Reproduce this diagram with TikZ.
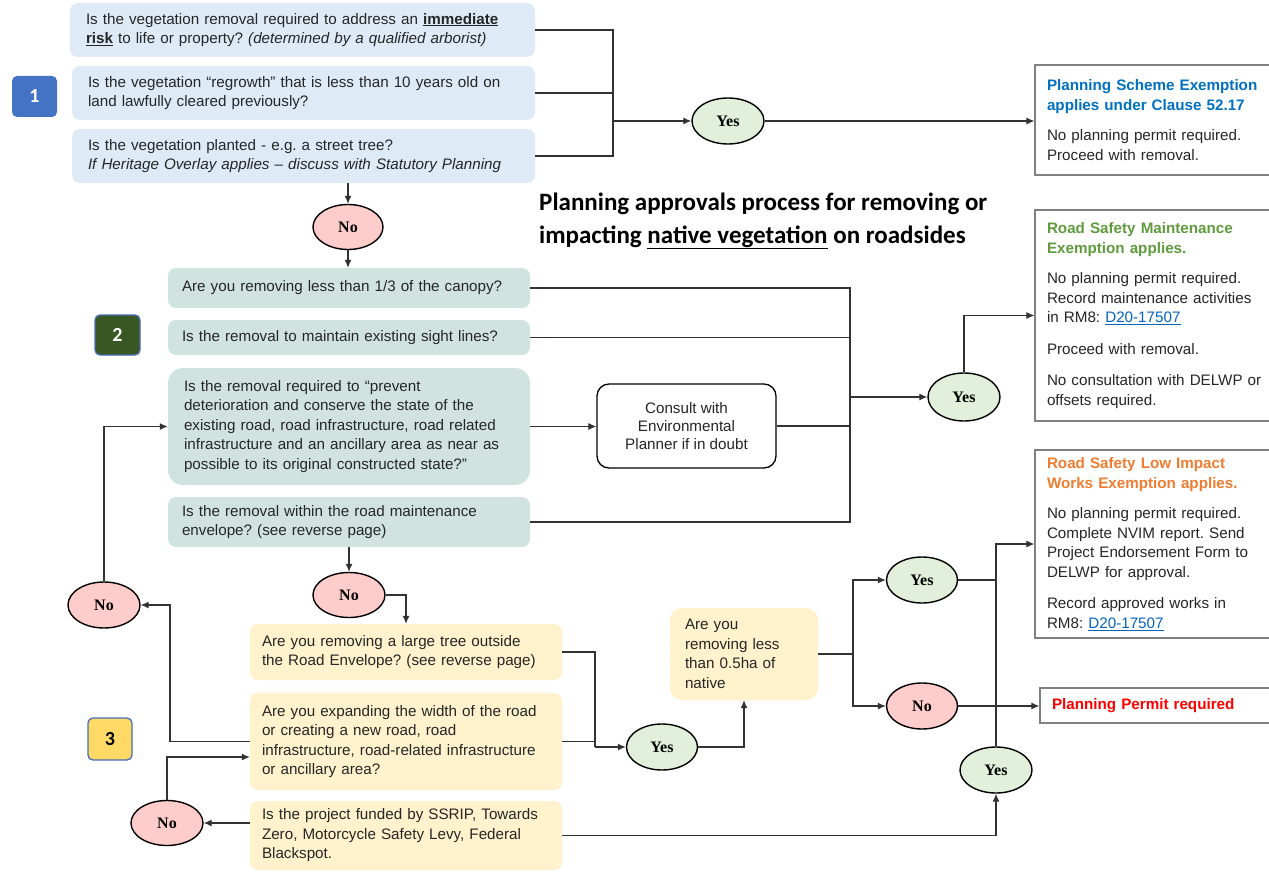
\documentclass[tikz,border=0pt]{standalone}
\usepackage{fontspec}
\setmainfont{Liberation Sans}
\newfontfamily\yesnofont{Liberation Serif}
\newfontfamily\calfont{Carlito}
\usetikzlibrary{shapes.geometric,arrows.meta,calc}
\frenchspacing
\definecolor{blueF}{RGB}{222,235,247}
\definecolor{tealF}{RGB}{209,227,225}
\definecolor{yellF}{RGB}{255,242,204}
\definecolor{pinkF}{RGB}{255,204,204}
\definecolor{greenF}{RGB}{226,239,218}
\definecolor{badgeA}{RGB}{68,114,196}
\definecolor{badgeB}{RGB}{56,87,35}
\definecolor{badgeC}{RGB}{255,217,102}
\definecolor{badgeBorder}{RGB}{70,110,180}
\definecolor{tblue}{RGB}{0,112,192}
\definecolor{tgreen}{RGB}{96,155,62}
\definecolor{torange}{RGB}{237,125,49}
\definecolor{tred}{RGB}{255,0,0}
\definecolor{tlink}{RGB}{5,99,193}
\definecolor{txt}{RGB}{38,38,38}
\definecolor{boxgray}{RGB}{128,128,128}
\definecolor{linegray}{RGB}{50,50,50}
\newsavebox\myulbox
\newcommand\myul[3]{\leavevmode\sbox\myulbox{#3}\rlap{\rule[#1]{\wd\myulbox}{#2}}\usebox\myulbox}
\newcommand\myqfont{\frenchspacing\fontsize{15.2}{19.5}\selectfont}
\newcommand\mylink[1]{\textcolor{tlink}{\myul{-2.5pt}{0.9pt}{#1}}}
\begin{document}
\begin{tikzpicture}[x=1pt,y=-1pt,
  qbox/.style={rounded corners=8pt, inner xsep=0pt, inner ysep=0pt, align=left, font=\myqfont, text=txt},
  rbox/.style={draw=boxgray, line width=1.2pt, inner xsep=0pt, inner ysep=0pt, align=left, font=\myqfont, text=txt, minimum width=250pt, text width=226pt},
  badge/.style={rounded corners=5pt, minimum width=45pt, minimum height=41pt, inner sep=0pt, font=\calfont\bfseries\fontsize{20}{20}\selectfont},
  ynell/.style={ellipse, draw=black, line width=1.4pt, inner sep=0pt, minimum width=72pt, minimum height=46pt, font=\yesnofont\bfseries\fontsize{16}{16}\selectfont},
  yesell/.style={ynell, fill=greenF},
  noell/.style={ynell, fill=pinkF},
  conn/.style={draw=linegray, line width=1.1pt},
  arr/.style={conn, -{Latex[length=8pt,width=7pt]}}
]
\fill[white] (0,0) rectangle (1269,872);
\clip (0,0) rectangle (1269,872);

% ---- section 1
\node[qbox, fill=blueF, minimum width=465pt, minimum height=54pt, text width=433pt] (q1a) at (302.5,30)
  {Is the vegetation removal required to address an \textbf{\myul{-2pt}{1pt}{immediate}}\\\textbf{\myul{-2pt}{1pt}{risk}} to life or property? \textit{(determined by a qualified arborist)}};
\node[qbox, fill=blueF, minimum width=463pt, minimum height=54pt, text width=431pt] (q1b) at (303.5,93)
  {Is the vegetation “regrowth” that is less than 10 years old on\\land lawfully cleared previously?};
\node[qbox, fill=blueF, minimum width=463pt, minimum height=54pt, text width=431pt] (q1c) at (303.5,156)
  {Is the vegetation planted - e.g. a street tree?\\\textit{If Heritage Overlay applies – discuss with Statutory Planning}};
\node[badge, fill=badgeA, text=white] (b1) at (34.5,96.5) {1};

\node[yesell] (yes1) at (728,121) {Yes};
\node[noell, minimum width=70pt, minimum height=45pt] (no1) at (348,227) {No};

\node[rbox, minimum height=110pt] (pse) at (1160,120)
  {\textcolor{tblue}{\textbf{Planning Scheme Exemption\\applies under Clause 52.17}}\\[11pt]No planning permit required.\\Proceed with removal.};

\node[anchor=west, inner sep=0pt, align=left, font=\calfont\bfseries\fontsize{25}{33}\selectfont] (title) at (539,221)
  {Planning approvals process for removing or\\impacting \myul{-6pt}{1.3pt}{native vegetation} on roadsides};

% ---- section 2
\node[qbox, fill=tealF, minimum width=362pt, minimum height=40pt, text width=334pt] (q2a) at (349,288)
  {Are you removing less than 1/3 of the canopy?};
\node[qbox, fill=tealF, minimum width=362pt, minimum height=35pt, text width=334pt] (q2b) at (349,337.5)
  {Is the removal to maintain existing sight lines?};
\node[qbox, rounded corners=15pt, fill=tealF, minimum width=362pt, minimum height=117pt, text width=330pt] (q2c) at (349,426.5)
  {Is the removal required to “prevent\\deterioration and conserve the state of the\\existing road, road infrastructure, road related\\infrastructure and an ancillary area as near as\\possible to its original constructed state?”};
\node[qbox, fill=tealF, minimum width=362pt, minimum height=50pt, text width=334pt] (q2d) at (349,522)
  {Is the removal within the road maintenance\\envelope? (see reverse page)};
\node[badge, fill=badgeB, draw=badgeBorder, line width=1.3pt, text=white, minimum height=40pt] (b2) at (117.5,335) {2};

\node[rounded corners=12pt, draw=black, line width=1.3pt, fill=white, minimum width=179pt, minimum height=84pt, align=center, font=\fontsize{15.2}{18}\selectfont, text=txt, inner sep=0pt] (consult) at (686.5,426)
  {Consult with\\Environmental\\Planner if in doubt};

\node[yesell, minimum height=48pt] (yes2) at (964,397) {Yes};

\node[rbox, minimum height=211pt] (rsm) at (1160,315.5)
  {\textcolor{tgreen}{\textbf{Road Safety Maintenance\\Exemption applies.}}\\[11pt]No planning permit required.\\Record maintenance activities\\in RM8: \mylink{D20-17507}\\[12pt]Proceed with removal.\\[12pt]No consultation with DELWP or\\offsets required.};

\node[noell, minimum height=45pt] (no3) at (349,595) {No};

% ---- section 3
\node[qbox, fill=yellF, minimum width=312pt, minimum height=56pt, text width=288pt] (q3a) at (406,652)
  {Are you removing a large tree outside\\the Road Envelope? (see reverse page)};
\node[qbox, fill=yellF, minimum width=312pt, minimum height=97pt, text width=288pt] (q3b) at (406,741.5)
  {Are you expanding the width of the road\\or creating a new road, road\\infrastructure, road-related infrastructure\\or ancillary area?};
\node[qbox, fill=yellF, minimum width=312pt, minimum height=69pt, text width=288pt] (q3c) at (406,835.5)
  {Is the project funded by SSRIP, Towards\\Zero, Motorcycle Safety Levy, Federal\\Blackspot.};
\node[badge, fill=badgeC, draw=badgeBorder, line width=1.3pt, text=black, minimum width=44pt, minimum height=42pt] (b3) at (110,739) {3};

\node[noell] (no4) at (104,605) {No};
\node[noell, minimum height=45pt] (no5) at (167,823) {No};
\node[yesell, minimum width=71pt] (yes3) at (662,747) {Yes};

\node[qbox, rounded corners=12pt, fill=yellF, minimum width=148pt, minimum height=92pt, text width=118pt] (q4) at (744,654)
  {Are you\\removing less\\than 0.5ha of\\native};

\node[yesell, minimum width=71pt] (yes4) at (922,580) {Yes};
\node[noell, minimum width=71pt] (no6) at (922,706) {No};
\node[yesell] (yes5) at (996,770) {Yes};

\node[rbox, minimum height=188pt] (rsli) at (1160,544)
  {\textcolor{torange}{\textbf{Road Safety Low Impact\\Works Exemption applies.}}\\[11pt]No planning permit required.\\Complete NVIM report. Send\\Project Endorsement Form to\\DELWP for approval.\\[12pt]Record approved works in\\RM8: \mylink{D20-17507}};

\node[rbox, minimum height=35pt] (ppr) at (1165,705.5)
  {\textcolor{tred}{\textbf{Planning Permit required}}};

% ---- connectors
\coordinate (j1) at (613,121);
\draw[conn] (q1a.east) -| (j1);
\draw[conn] (q1b.east) -| (j1);
\draw[conn] (q1c.east) -| (j1);
\draw[arr] (j1) -- (yes1.west);
\draw[arr] (yes1.east) -- (yes1.east -| pse.west);
\draw[arr] (q1c.south -| no1) -- (no1.north);
\draw[arr] (no1.south) -- (no1.south |- q2a.north);

\coordinate (j2) at (850,397);
\draw[conn] (q2a.east) -| (j2);
\draw[conn] (q2b.east) -| (j2);
\draw[conn] (consult.east) -| (j2);
\draw[conn] (q2d.east) -| (j2);
\draw[arr] (q2c.east) -- (q2c.east -| consult.west);
\draw[arr] (j2) -- (yes2.west);
\draw[arr] (yes2.north) |- (rsm.west);

\draw[arr] (q2d.south -| no3) -- (no3.north);
\draw[arr] (no3.east) -| (q3a.north);

\draw[arr] (no4.north) |- (q2c.west);
\coordinate (c1) at (170,605);
\draw[arr] (q3b.west) -| (c1) -- (no4.east);
\draw[arr] (q3c.west |- no5.east) -- (no5.east);
\coordinate (c2) at (167,757);
\draw[arr] (no5.north) -- (c2) -- (c2 -| q3b.west);

\coordinate (j3) at (595,747);
\draw[conn] (q3a.east) -| (j3);
\draw[conn] (q3b.east) -| (j3);
\draw[arr] (j3) -- (yes3.west);
\draw[arr] (yes3.east) -| (q4.south);

\coordinate (j4) at (853,654);
\draw[conn] (q4.east) -- (j4);
\draw[arr] (j4) |- (yes4.west);
\draw[arr] (j4) |- (no6.west);

\coordinate (c3) at (996,580);
\draw[arr] (yes4.east) -- (c3) |- (rsli.west);
\draw[arr] (no6.east) -- (no6.east -| ppr.west);
\draw[arr] (q3c.east) -| (yes5.south);
\draw[conn] (yes5.north) -- (c3);
\end{tikzpicture}
\end{document}
